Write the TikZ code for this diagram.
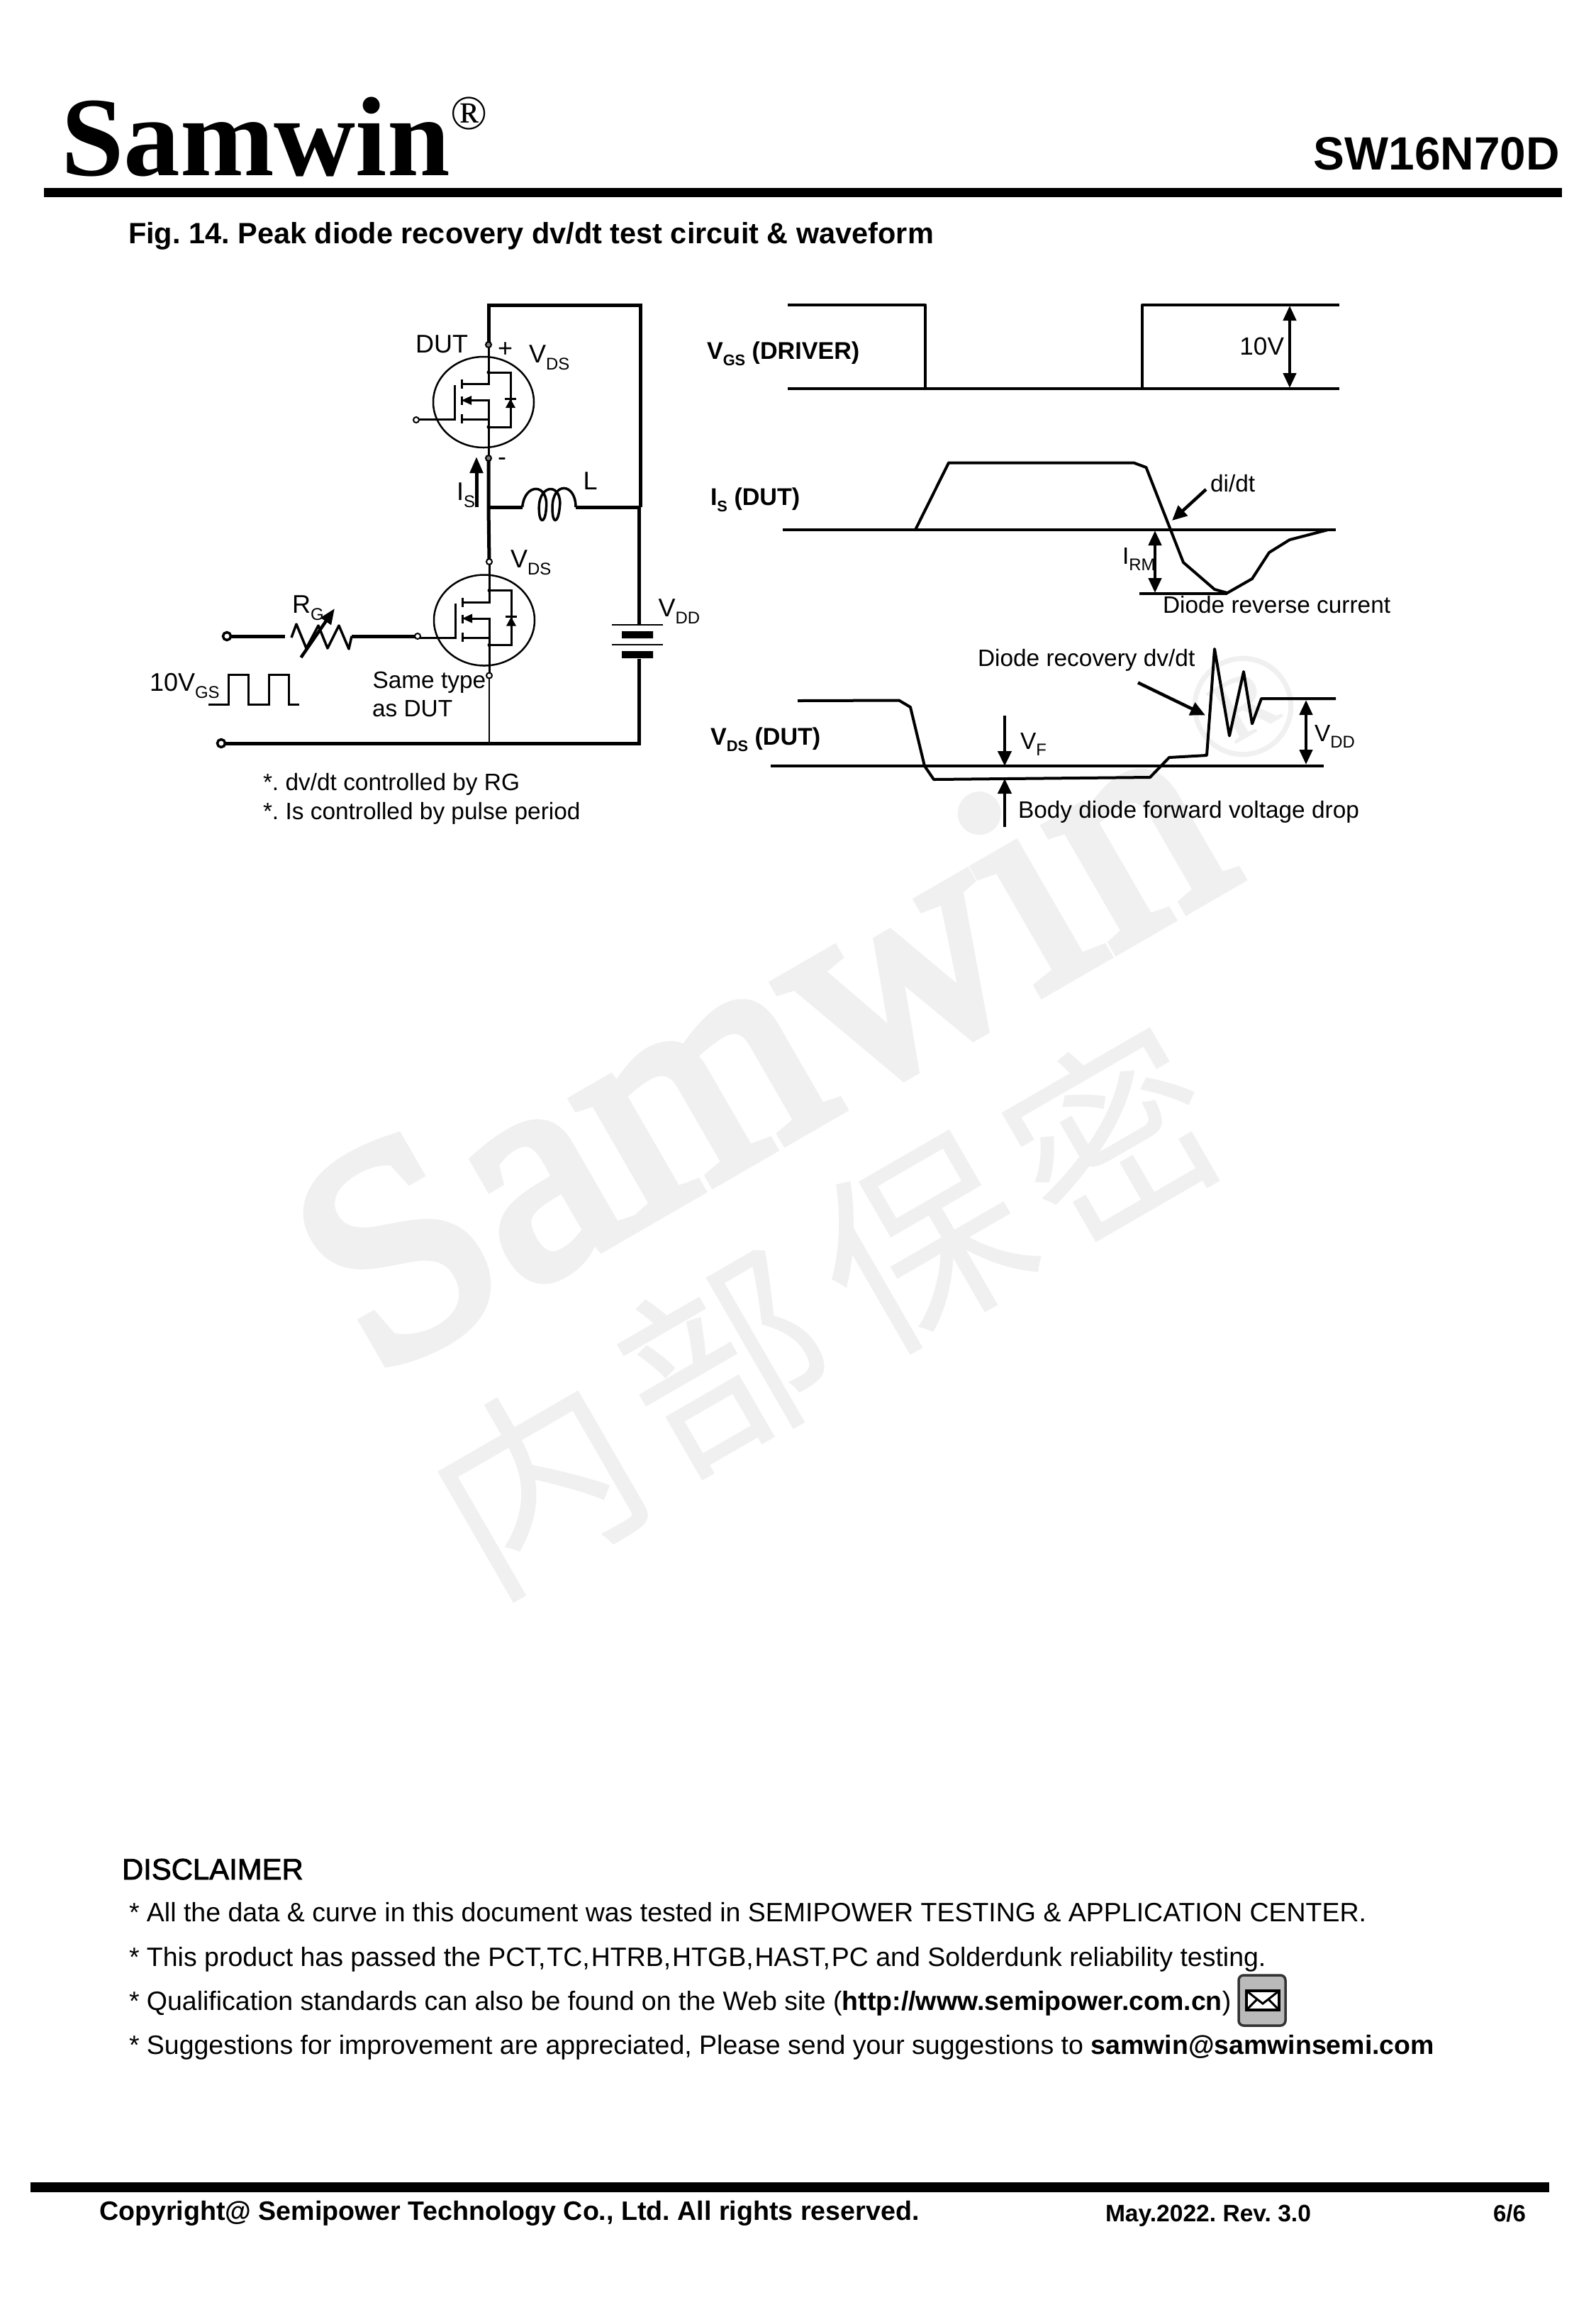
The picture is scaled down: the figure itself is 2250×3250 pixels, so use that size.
\documentclass[tikz,border=0pt]{standalone}
\usepackage{fontspec}
\usetikzlibrary{arrows.meta,calc}
\setmainfont{Liberation Sans}
\newfontfamily\timesf{Liberation Serif}
\newfontfamily\timesfb[FakeBold=3.5]{Liberation Serif}
\newfontfamily\cjkf{Noto Sans CJK SC}
\newfontfamily\fakebf[FakeBold=2]{Liberation Sans}
\newcommand\fsz[1]{\fontsize{#1}{#1}\selectfont}
\newcommand\sbs[1]{\raisebox{-0.28em}{\fsz{6.8}#1}}
\newcommand\sbb[1]{\raisebox{-0.28em}{\fsz{6.2}#1}}
\definecolor{wm}{HTML}{F0F0F0}
\frenchspacing
\tikzset{
  lbl/.style={inner sep=0pt,outer sep=0pt,anchor=base west,font=\fsz{10.24}},
  small/.style={lbl,font=\fsz{9.5}},
  body/.style={lbl,font=\fsz{10.66}},
  bold lbl/.style={lbl,font=\fsz{9.7}\bfseries},
  wire/.style={line width=0.05cm,line join=miter},
  coil/.style={line width=0.035cm,line join=round},
  mid/.style={line width=0.03cm,line join=miter},
  thin wire/.style={line width=0.015cm},
  wave/.style={line width=0.04cm,line join=round},
  dim/.style={line width=0.045cm,{Triangle[length=0.21cm,width=0.18cm]}-{Triangle[length=0.21cm,width=0.18cm]}},
  one/.style={line width=0.045cm,-{Triangle[length=0.21cm,width=0.19cm]}},
  term/.style={circle,draw,fill=white,line width=0.02cm,inner sep=0pt,outer sep=0pt,minimum size=0.08cm},
  big term/.style={term,line width=0.035cm,minimum size=0.11cm},
  dot/.style={circle,fill=black,inner sep=0pt,outer sep=0pt,minimum size=0.05cm},
  mark wm/.style={inner sep=0pt,outer sep=0pt,text=wm,rotate=30},
}
% MOSFET symbol; #1 name prefix, #2 centre
\newcommand\mosfet[2]{%
  \begin{scope}[shift={#2}]
    \draw[line width=0.025cm] (0,0) ellipse [x radius=71,y radius=64];
    \coordinate (#1drain) at (7,-42);
    \coordinate (#1source) at (7,35);
    \coordinate (#1gate) at (-94,24.5);
    \node[dot] (#1ddot) at (#1drain) {};
    \node[dot] (#1sdot) at (#1source) {};
    \draw[mid] (#1drain) -- (38,-42) -- (38,35) -- (#1source);
    \draw[mid] (7,-64) -- (7,-25.5) -- (-31,-25.5);
    \draw[mid] (7,64) -- (7,24.5) -- (-31,24.5);
    \draw[mid] (#1source) -- (7,-2.5) -- (-18,-2.5);
    \fill (-31,-2.5) -- (-17,-9) -- (-17,4) -- cycle;
    \draw[line width=0.03cm] (-31,-32) -- (-31,-19) (-31,-8) -- (-31,4) (-31,17) -- (-31,30);
    \draw[mid] (-41,-24) -- (-41,24.5) -- (#1gate);
    \fill (38,-4.6) -- (31,8) -- (45,8) -- cycle;
    \draw[mid] (30,-5) -- (46,-5);
  \end{scope}}
\begin{document}
\begin{tikzpicture}[x=0.01cm,y=-0.01cm]
\useasboundingbox (0,0) rectangle (2250,3250);
\fill[white] (0,0) rectangle (2250,3250);
% watermark
\node[mark wm,anchor=base west,font=\timesfb\fsz{123}] (wmA) at (527,1944) {Samwin};
\node[mark wm,font=\timesf\fsz{60}] (wmR) at (1753,997) {®};
\node[mark wm,font=\cjkf\fsz{81}] (wm1) at (758,2090) {内};
\node[mark wm,font=\cjkf\fsz{81}] (wm2) at (1022,1920) {部};
\node[mark wm,font=\cjkf\fsz{81}] (wm3) at (1300,1752) {保};
\node[mark wm,font=\cjkf\fsz{81}] (wm4) at (1570,1600) {密};
% header
\node[lbl,font=\timesf\bfseries\fsz{45.3}] (logo) at (86,247) {Samwin};
\node[inner sep=0pt,font=\timesf\fsz{19.5}] (logoR) at (662,160) {®};
\node[lbl,font=\bfseries\fsz{18.7},anchor=base east] (part) at (2200,239) {SW16N70D};
\fill (62,265) rectangle (2203,278);
\node[lbl,font=\bfseries\fsz{11.79}] (title) at (181,343) {Fig. 14. Peak diode recovery dv/dt test circuit \& waveform};
% ---------- circuit
\mosfet{u}{(682,567)}
\mosfet{d}{(683,874.5)}
\coordinate (tl) at (689,430);
\coordinate (tr) at (903,430);
\coordinate (ml) at (689,715);
\coordinate (mr) at (903,715);
\node[term,draw=black,fill=gray] (t1) at (689,486) {};
\node[term,draw=black,fill=gray] (t2) at (689,646) {};
\node[term] (t3) at (690,792) {};
\node[term] (t4) at (690,952.5) {};
\node[term] (ugate) at (587,592) {};
\node[term] (dgate) at (589,897) {};
\node[big term] (inA) at (320,897) {};
\node[big term] (inB) at (312,1048) {};
\coordinate (bb) at (690,1048);
\coordinate (br) at (901.5,1048);
\coordinate (coilL) at (736.7,715);
\coordinate (coilR) at (812,715);
\draw[wire] (t1) -- (tl) -- (tr) -- (mr);
\draw[mid] (t1) -- (689,503);
\draw[wire] (t2) -- (ml) -- (t3);
\draw[mid] (t3) -- (690,810.5);
\draw[mid] (690,938.5) -- (t4);
\draw[mid] (689,631) -- (t2);
\draw[wire] (ml) -- (coilL) (coilR) -- (mr);
\draw[coil] (coilL) .. controls (739.8,680.6) and (774,680.6) .. (770.4,716.3)
  .. controls (768.9,739.3) and (760.2,739.3) .. (760.2,716.3)
  .. controls (760.2,680.6) and (794.4,680.6) .. (789.3,716.3)
  .. controls (786.7,739.3) and (779,739.3) .. (779,716.3)
  .. controls (779,678) and (812,680.6) .. (coilR);
\coordinate (batT) at (901.5,881);
\coordinate (batB) at (901.5,929);
\draw[wire] (901.5,715) -- (batT);
\draw[thin wire] (863,881) -- (935,881) (863,909) -- (935,909);
\fill (877,890) rectangle (921,900) (877,918) rectangle (921,928);
\draw[wire] (batB) -- (br) -- (inB);
\draw[thin wire] (t4) -- (bb);
% gate drive
\coordinate (wL) at (401.5,897);
\coordinate (rL) at (411,899);
\coordinate (rR) at (496,897);
\draw[wire] (inA) -- (wL);
\draw[line width=0.035cm,line join=round] (rL) -- (418,880) -- (432,914) -- (449,882) -- (462,914) -- (478,882) -- (492,915) -- (rR);
\draw[wire] (rR) -- (dgate);
\draw[line width=0.045cm,-{Triangle[length=0.22cm,width=0.17cm]}] (424.5,927) -- (472,858);
\draw[mid] (294,993) -- (322.5,993) -- (322.5,951) -- (350.5,951) -- (350.5,993) -- (379.6,993) -- (379.6,951) -- (407.7,951) -- (407.7,993) -- (422,993);
\draw[line width=0.05cm,-{Triangle[length=0.23cm,width=0.18cm]}] (672,715) -- (672,644);
% circuit texts
\node[lbl] (dut) at (586,497) {DUT};
\node[lbl] (plus) at (702,503) {+};
\node[lbl] (minus) at (702,656) {-};
\node[lbl] (vds1) at (746,511) {V\sbs{DS}};
\node[lbl] (is1) at (644,705) {I\sbs{S}};
\node[lbl] (ll) at (822.5,690) {L};
\node[lbl] (vds2) at (720,800) {V\sbs{DS}};
\node[lbl] (vdd1) at (928.5,869) {V\sbs{DD}};
\node[lbl] (rg) at (412,864) {R\sbs{G}};
\node[lbl] (tenv) at (211,974) {10V\sbs{GS}};
\node[small] (same1) at (525.5,970) {Same type};
\node[small] (same2) at (525,1010) {as DUT};
\node[small] (note1) at (371,1114) {*. dv/dt controlled by RG};
\node[small] (note2) at (371,1155) {*. Is controlled by pulse period};
% ---------- waveforms
\node[bold lbl] (lvgs) at (997,506) {V\sbb{GS} (DRIVER)};
\node[bold lbl] (lis) at (1002,712) {I\sbb{S} (DUT)};
\node[bold lbl] (lvds) at (1002,1050) {V\sbb{DS} (DUT)};
% VGS
\coordinate (g1) at (1111,430); \coordinate (g2) at (1305,430);
\coordinate (g3) at (1305,548); \coordinate (g4) at (1611,548);
\coordinate (g5) at (1611,430); \coordinate (g6) at (1889,430);
\coordinate (g7) at (1111,548); \coordinate (g8) at (1889,548);
\draw[wave] (g1) -- (g2) -- (g3);
\draw[wave] (g7) -- (g8);
\draw[wave] (g4) -- (g5) -- (g6);
\draw[dim] (1819,431) -- (1819,547);
\node[lbl,font=\fsz{10},anchor=base east] (tenvb) at (1811,500) {10V};
% IS
\coordinate (i1) at (1104,747); \coordinate (i2) at (1884,747);
\draw[wave] (i1) -- (i2);
\draw[wave] (1291,747) -- (1338,652.5) -- (1599,652.5) -- (1616.5,659) -- (1669,793) -- (1713,831) -- (1731,836) -- (1766,816) -- (1790,779) -- (1819,761) -- (1873,747);
\draw[wave] (1607,837) -- (1731,837);
\draw[dim] (1629,748) -- (1629,836);
\draw[one] (1701,690) -- (1653,734);
\node[small] (didt) at (1707,693) {di/dt};
\node[small] (irm) at (1583,795) {I\sbs{RM}};
\node[small] (drc) at (1640,864) {Diode reverse current};
% VDS
\coordinate (v1) at (1086.5,1080); \coordinate (v2) at (1866.5,1080);
\draw[wave] (v1) -- (v2);
\draw[wave] (1125,988) -- (1268,987.5) -- (1284,997) -- (1304,1080) -- (1317,1099) -- (1622,1096) -- (1649,1068) -- (1702,1065) -- (1713,915) -- (1734,1037.5) -- (1754,947) -- (1766,1020.5) -- (1779,985) -- (1884,985);
\draw[one] (1417,1009) -- (1417,1080);
\draw[one] (1417,1166) -- (1417,1098);
\draw[one] (1605,962.5) -- (1700,1008.5);
\draw[dim] (1842,987) -- (1842,1078);
\node[small] (vf) at (1439,1056) {V\sbs{F}};
\node[small] (vdd2) at (1854,1045.5) {V\sbs{DD}};
\node[small] (bdf) at (1436,1153.6) {Body diode forward voltage drop};
\node[small] (drd) at (1379,939) {Diode recovery dv/dt};
% ---------- disclaimer
\node[lbl,font=\fakebf\fsz{11.9}] (disc) at (172,2650) {DISCLAIMER};
\node[body] (b1) at (182,2709) {* All the data \& curve in this document was tested in SEMIPOWER TESTING \& APPLICATION CENTER.};
\node[body] (b2) at (182,2772) {* This product has passed the PCT,\kern0.55pt TC,\kern0.55pt HTRB,\kern0.55pt HTGB,\kern0.55pt HAST,\kern0.55pt PC and Solderdunk reliability testing.};
\node[body] (b3) at (182,2834) {* Qualification standards can also be found on the Web site (\textbf{http://www.semipower.com.cn})};
\node[body] (b4) at (182,2896.6) {* Suggestions for improvement are appreciated, Please send your suggestions to \textbf{samwin@samwinsemi.com}};
% mail icon
\draw[line width=0.035cm,draw=black!80,fill=black!27,rounded corners=0.07cm] (1747,2785) rectangle (1813,2856);
\draw[line width=0.04cm,fill=white] (1758,2807) rectangle (1804,2834);
\draw[line width=0.03cm] (1758,2807) -- (1781,2825) -- (1804,2807) (1758,2834) -- (1773,2819) (1804,2834) -- (1789,2819);
% footer
\fill (43,3077) rectangle (2185,3091);
\node[lbl,font=\bfseries\fsz{10.7}] (copy) at (140,3130) {Copyright@ Semipower Technology Co., Ltd. All rights reserved.};
\node[lbl,font=\bfseries\fsz{9.55}] (date) at (1559,3132) {May.2022. Rev. 3.0};
\node[lbl,font=\bfseries\fsz{9.39}] (page) at (2106,3132) {6/6};
\end{tikzpicture}
\end{document}
